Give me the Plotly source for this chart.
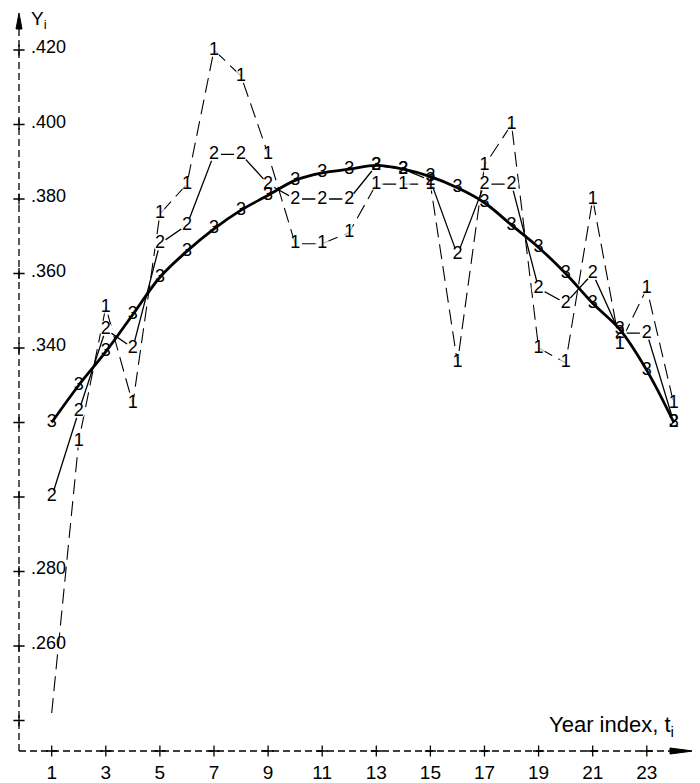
import plotly.graph_objects as go

# ---- data ----
year_index = list(range(1, 25))
series_1 = [0.242, 0.315, 0.351, 0.325, 0.376, 0.384, 0.420, 0.413, 0.392, 0.368,
            0.368, 0.371, 0.384, 0.384, 0.384, 0.336, 0.389, 0.400, 0.340, 0.336,
            0.380, 0.341, 0.356, 0.325]
series_2 = [0.300, 0.323, 0.345, 0.340, 0.368, 0.373, 0.392, 0.392, 0.384, 0.380,
            0.380, 0.380, 0.389, 0.388, 0.385, 0.365, 0.384, 0.384, 0.356, 0.352,
            0.360, 0.344, 0.344, 0.320]
series_3 = [0.320, 0.330, 0.339, 0.349, 0.359, 0.366, 0.372, 0.377, 0.381, 0.385,
            0.387, 0.388, 0.389, 0.388, 0.386, 0.383, 0.379, 0.373, 0.367, 0.360,
            0.352, 0.345, 0.334, 0.320]
labels_1 = [" "] + ["1"] * 23
labels_2 = ["2"] * 24
labels_3 = ["3"] * 24

y_tick_vals = [0.240, 0.260, 0.280, 0.300, 0.320, 0.340, 0.360, 0.380, 0.400, 0.420]
y_tick_text = ["", ".260", ".280", "", "", ".340", ".360", ".380", ".400", ".420"]
x_tick_vals = [1, 3, 5, 7, 9, 11, 13, 15, 17, 19, 21, 23]
x_tick_text = [str(v) for v in x_tick_vals]

# ---- layout geometry (page body adds an 8px margin) ----
BODY = 8
W, H = 700 - BODY, 783 - BODY
PLOT_L, PLOT_R, PLOT_T, PLOT_B = 19, 692, 18, 751   # in window pixels
ML, MT = PLOT_L - BODY, PLOT_T - BODY
MR, MB = W - (PLOT_R - BODY), H - (PLOT_B - BODY)
PW, PH = PLOT_R - PLOT_L, PLOT_B - PLOT_T
X_RANGE = [-0.209, 24.671]
Y_RANGE = [0.23181, 0.42859]


def px(x):
    return (x - PLOT_L) / PW


def py(y):
    return (PLOT_B - y) / PH


FONT = "Liberation Sans, Arial, Helvetica, sans-serif"

fig = go.Figure()

# series 1: dashed
fig.add_trace(go.Scatter(
    x=year_index, y=series_1, mode="lines+markers",
    line=dict(color="black", width=1.1, dash="15px,7px"),
    marker=dict(color="white", size=[0] + [14] * 23, line=dict(width=0)),
    hoverinfo="skip", showlegend=False))
# series 2: thin solid
fig.add_trace(go.Scatter(
    x=year_index, y=series_2, mode="lines+markers",
    line=dict(color="black", width=1.3),
    marker=dict(color="white", size=14, line=dict(width=0)),
    hoverinfo="skip", showlegend=False))
# series 3: thick smooth curve
fig.add_trace(go.Scatter(
    x=year_index, y=series_3, mode="lines",
    line=dict(color="black", width=2.8, shape="spline", smoothing=1.0),
    hoverinfo="skip", showlegend=False))

# digit labels
for ys, lab in [(series_1, labels_1), (series_2, labels_2), (series_3, labels_3)]:
    fig.add_trace(go.Scatter(
        x=year_index, y=ys, mode="text", text=lab, textposition="middle center",
        textfont=dict(family=FONT, size=18, color="black"),
        hoverinfo="skip", showlegend=False, cliponaxis=False))

# "+" tick marks on the axes
fig.add_trace(go.Scatter(
    x=[X_RANGE[0]] * len(y_tick_vals), y=y_tick_vals, mode="markers",
    marker=dict(symbol="cross-thin", size=8, line=dict(color="black", width=1.3)),
    hoverinfo="skip", showlegend=False, cliponaxis=False))
fig.add_trace(go.Scatter(
    x=x_tick_vals, y=[Y_RANGE[0]] * len(x_tick_vals), mode="markers",
    marker=dict(symbol="cross-thin", size=8, line=dict(color="black", width=1.3)),
    hoverinfo="skip", showlegend=False, cliponaxis=False))

shapes = [
    # dashed axes
    dict(type="line", xref="paper", yref="paper", x0=0, y0=0, x1=0, y1=py(29),
         line=dict(color="black", width=1.3, dash="7px,4px")),
    dict(type="line", xref="paper", yref="paper", x0=0, y0=0, x1=px(670), y1=0,
         line=dict(color="black", width=1.3, dash="7px,4px")),
    # arrow heads
    dict(type="path", xref="paper", yref="paper",
         path=f"M {px(16)},{py(29)} L 0,{py(13)} L {px(22)},{py(29)} Z",
         fillcolor="black", line=dict(color="black", width=1)),
    dict(type="path", xref="paper", yref="paper",
         path=f"M {px(670)},{py(748)} L {px(693)},0 L {px(670)},{py(754)} Z",
         fillcolor="black", line=dict(color="black", width=1)),
]

annotations = [
    dict(text="Y<sub>i</sub>", xref="paper", yref="paper",
         x=px(29), y=py(20), xanchor="left", yanchor="middle",
         showarrow=False, font=dict(family=FONT, size=19, color="black")),
    dict(text="Year index, t<sub>i</sub>", xref="paper", yref="paper",
         x=px(676), y=py(726), xanchor="right", yanchor="middle",
         showarrow=False, font=dict(family=FONT, size=22, color="black")),
]
# y tick labels to the right of the axis
for v, txt in zip(y_tick_vals, y_tick_text):
    if txt:
        annotations.append(dict(
            text=txt, xref="paper", yref="y", x=px(29), y=v,
            xanchor="left", yanchor="middle", yshift=3, showarrow=False,
            font=dict(family=FONT, size=18, color="black")))

fig.update_layout(
    width=W, height=H,
    margin=dict(l=ML, r=MR, t=MT, b=MB, autoexpand=False),
    paper_bgcolor="white", plot_bgcolor="white",
    shapes=shapes, annotations=annotations,
    xaxis=dict(range=X_RANGE, showgrid=False, zeroline=False, showline=False,
               tickvals=x_tick_vals, ticktext=x_tick_text, ticks="",
               ticklabelstandoff=8, automargin=False,
               tickfont=dict(family=FONT, size=19, color="black")),
    yaxis=dict(range=Y_RANGE, showgrid=False, zeroline=False, showline=False,
               showticklabels=False, ticks="", automargin=False),
)

fig.write_html("out.html")
